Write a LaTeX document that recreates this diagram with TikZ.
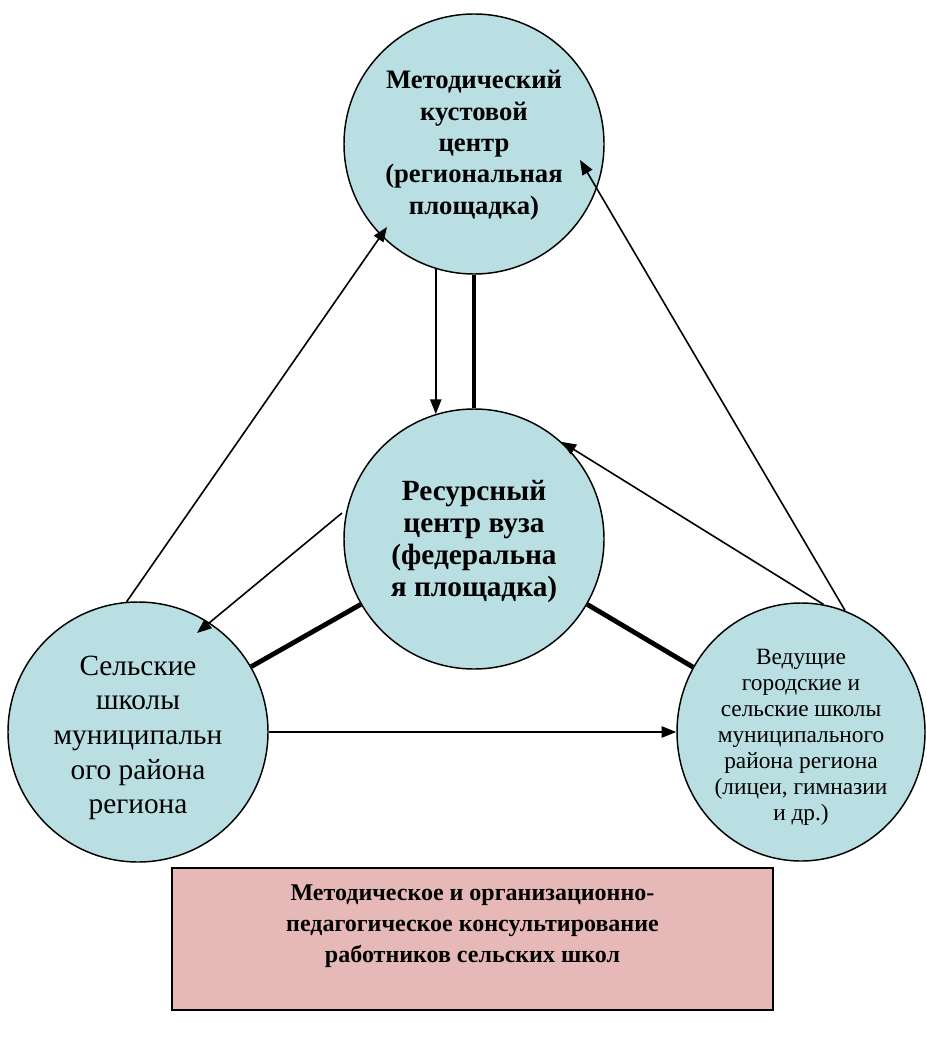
\documentclass[tikz,border=0pt]{standalone}
\usepackage{fontspec}
\setmainfont{Liberation Serif}
\usetikzlibrary{arrows.meta,calc,shapes.geometric}
\definecolor{cfill}{RGB}{185,223,227}
\definecolor{bfill}{RGB}{230,184,183}
\begin{document}
\begin{tikzpicture}[x=0.75pt,y=-0.75pt,
  circ/.style={circle,draw=black,line width=1.1pt,fill=cfill,minimum size=195pt,inner sep=0pt,align=center},
  ell/.style={ellipse,draw=black,line width=1.1pt,fill=cfill,minimum width=186pt,minimum height=193.5pt,inner sep=0pt,align=center},
  txt/.style={inner sep=0pt,align=center},
  arr/.style={line width=1.2pt,-{Triangle[length=11pt,width=8.5pt]}},
  boldlink/.style={line width=3.6pt},
  infobox/.style={rectangle,draw=black,line width=1.1pt,fill=bfill,minimum width=450.75pt,minimum height=106.5pt,align=center,inner sep=0pt}]
\useasboundingbox (0,0) rectangle (926,1037);
\node[circ] (T) at (474,144) {};
\node[circ] (C) at (474,539) {};
\node[circ] (L) at (138,732) {};
\node[ell] (R) at (801,732) {};
\node[txt,font=\bfseries\fontsize{20}{23.5}\selectfont] (Tt) at ($(T)+(0,1)$) {Методический\\кустовой\\центр\\(региональная\\площадка)};
\node[txt,font=\bfseries\fontsize{22}{24}\selectfont] (Ct) at ($(C)+(0,3)$) {Ресурсный\\центр вуза\\(федеральна\\я площадка)};
\node[txt,font=\fontsize{22}{26}\selectfont] (Lt) at ($(L)+(0,6)$) {Сельские\\школы\\муниципальн\\ого района\\региона};
\node[txt,font=\fontsize{17.5}{19.5}\selectfont] (Rt) at ($(R)+(0,5)$) {Ведущие\\городские и\\сельские школы\\муниципального\\района региона\\(лицеи, гимназии\\и др.)};
\node[infobox,font=\bfseries\fontsize{18}{23.25}\selectfont] (B) at (472.5,939) {Методическое и организационно-\\педагогическое консультирование\\работников сельских школ\\~};
\coordinate (free) at (342,513);
\draw[arr] (L.95) -- ($(T)+(-87,83)$);
\draw[arr] (R.70) -- ($(T)+(106,16)$);
\draw[arr] (T.253) -- (C.107);
\draw[boldlink] (T.south) -- (C.north);
\draw[arr] (R.80) -- (C.48);
\draw[arr] (free) -- ($(L)+(59,-99)$);
\draw[boldlink] (C.210) -- (L.30);
\draw[boldlink] (C.330) -- (R.149);
\draw[arr] (L.east) -- (R.west);
\end{tikzpicture}
\end{document}
